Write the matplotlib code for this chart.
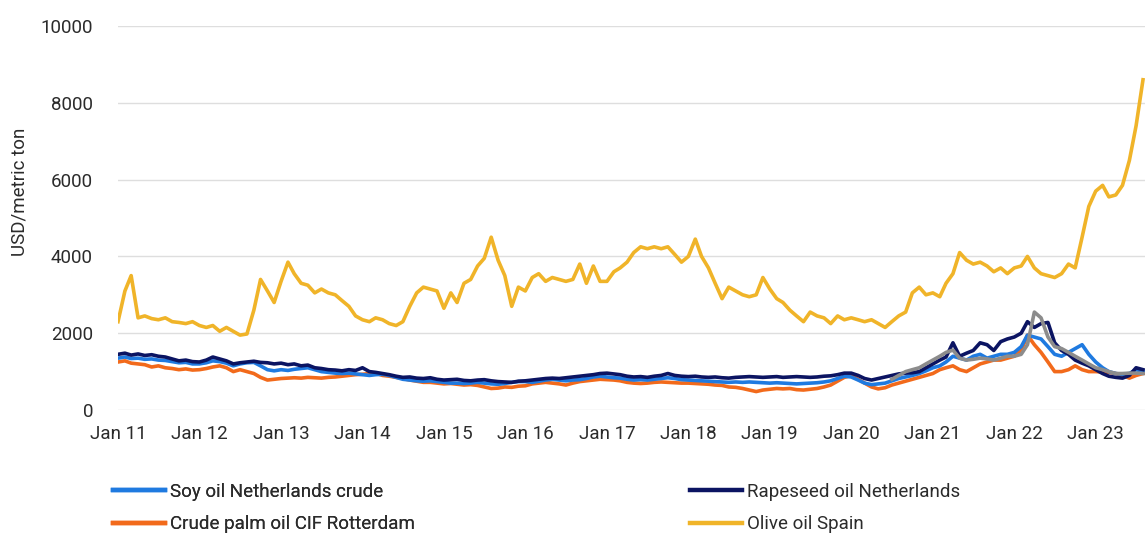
import numpy as np
import pandas as pd
import matplotlib
matplotlib.use("Agg")
from matplotlib import pyplot as plt
from matplotlib.lines import Line2D

plt.rcParams['font.family'] = ['Roboto', 'DejaVu Sans']

# monthly values, Jan 2011 - Aug 2023 (USD/metric ton)
dates = pd.date_range('2011-01-01', '2023-08-01', freq='MS')

olive = [
    2300, 3100, 3500, 2400, 2450, 2380, 2350, 2400, 2300, 2280, 2250, 2300,   # 2011
    2200, 2150, 2200, 2050, 2150, 2050, 1950, 1980, 2600, 3400, 3100, 2800,   # 2012
    3350, 3850, 3550, 3300, 3250, 3050, 3150, 3050, 3000, 2850, 2700, 2450,   # 2013
    2350, 2300, 2400, 2350, 2250, 2200, 2300, 2700, 3050, 3200, 3150, 3100,   # 2014
    2650, 3050, 2800, 3300, 3400, 3750, 3950, 4500, 3900, 3500, 2700, 3200,   # 2015
    3100, 3450, 3550, 3350, 3450, 3400, 3350, 3400, 3800, 3300, 3750, 3350,   # 2016
    3350, 3600, 3700, 3850, 4100, 4250, 4200, 4250, 4200, 4250, 4050, 3850,   # 2017
    4000, 4450, 4000, 3700, 3300, 2900, 3200, 3100, 3000, 2950, 3000, 3450,   # 2018
    3150, 2900, 2800, 2600, 2450, 2300, 2550, 2450, 2400, 2250, 2450, 2350,   # 2019
    2400, 2350, 2300, 2350, 2250, 2150, 2300, 2450, 2550, 3050, 3200, 3000,   # 2020
    3050, 2950, 3300, 3550, 4100, 3900, 3800, 3850, 3750, 3600, 3700, 3550,   # 2021
    3700, 3750, 4000, 3700, 3550, 3500, 3450, 3550, 3800, 3700, 4500, 5300,   # 2022
    5700, 5850, 5550, 5600, 5850, 6500, 7400, 8600,                           # 2023
]

rapeseed = [
    1450, 1480, 1430, 1460, 1420, 1440, 1400, 1380, 1330, 1280, 1300, 1260,
    1250, 1300, 1380, 1330, 1280, 1200, 1230, 1250, 1270, 1240, 1230, 1200,
    1220, 1180, 1200, 1150, 1170, 1100, 1080, 1050, 1040, 1020, 1050, 1030,
    1100, 1000, 980, 950, 920, 880, 850, 860, 830, 820, 840, 800,
    780, 790, 800, 770, 760, 780, 790, 760, 740, 730, 720, 750,
    760, 780, 800, 820, 830, 820, 840, 860, 880, 900, 920, 950,
    960, 940, 920, 880, 860, 870, 850, 880, 900, 950, 900, 880,
    870, 880, 860, 850, 860, 840, 830, 850, 860, 870, 860, 850,
    860, 870, 850, 860, 870, 860, 850, 860, 880, 890, 920, 960,
    960, 900, 820, 780, 820, 860, 900, 940, 960, 970, 1000, 1100,
    1200, 1300, 1380, 1750, 1400, 1480, 1550, 1750, 1700, 1550, 1780, 1850,
    1900, 2000, 2300, 2150, 2250, 2280, 1750, 1550, 1450, 1300, 1220, 1150,
    1050, 950, 880, 850, 830, 900, 1100, 1050,
]

soy = [
    1350, 1380, 1340, 1350, 1320, 1330, 1300, 1290, 1260, 1230, 1240, 1200,
    1200, 1230, 1280, 1260, 1220, 1150, 1200, 1230, 1240, 1150, 1050, 1020,
    1050, 1030, 1060, 1080, 1100, 1050, 1000, 980, 960, 950, 960, 940,
    920, 900, 920, 930, 900, 850, 800, 780, 760, 750, 760, 740,
    720, 700, 700, 690, 700, 720, 700, 680, 670, 690, 720, 740,
    740, 720, 750, 780, 800, 780, 760, 780, 790, 820, 860, 880,
    860, 840, 830, 800, 780, 790, 780, 800, 820, 840, 820, 790,
    780, 770, 760, 750, 740, 730, 720, 730, 720, 730, 720, 710,
    700, 710, 700, 690, 680, 690, 700, 710, 730, 760, 820, 880,
    860, 780, 700, 660, 680, 700, 760, 820, 860, 900, 950, 1020,
    1100, 1150, 1250, 1400, 1350, 1300, 1400, 1450, 1350, 1400, 1450, 1450,
    1500, 1650, 1950, 1900, 1850, 1650, 1450, 1400, 1500, 1600, 1700, 1450,
    1250, 1100, 1000, 950, 930, 950, 1050, 1000,
]

palm = [
    1250, 1280, 1220, 1200, 1180, 1120, 1150, 1100, 1080, 1050, 1070, 1040,
    1050, 1080, 1120, 1150, 1100, 1000, 1050, 1000, 950, 850, 780, 800,
    820, 830, 840, 830, 850, 840, 830, 850, 860, 880, 900, 920,
    930, 950, 960, 900, 880, 850, 820, 780, 750, 720, 720, 700,
    680, 690, 670, 650, 660, 640, 600, 560, 570, 600, 590, 620,
    630, 680, 700, 720, 700, 680, 650, 700, 740, 760, 780, 800,
    790, 780, 760, 720, 700, 690, 700, 720, 730, 720, 710, 700,
    700, 690, 680, 670, 650, 640, 600, 590, 560, 520, 480, 520,
    540, 560, 550, 560, 530, 520, 540, 560, 600, 650, 750, 850,
    900, 800, 700, 600, 550, 580, 650, 700, 750, 800, 850, 900,
    950, 1050, 1100, 1150, 1050, 1000, 1100, 1200, 1250, 1300, 1300, 1350,
    1400, 1550, 1950, 1700, 1500, 1250, 1000, 1000, 1050, 1150, 1050, 1000,
    1000, 990, 980, 950, 900, 830, 900, 950,
]

# grey series only from mid-2020 (not in the visible legend)
sun_dates = pd.date_range('2020-07-01', '2023-08-01', freq='MS')
sunflower = [
    800, 900, 1000, 1050, 1100, 1200,
    1300, 1400, 1500, 1560, 1350, 1300, 1320, 1350, 1330, 1300, 1350, 1400,
    1400, 1450, 1700, 2550, 2400, 1900, 1650, 1600, 1500, 1400, 1300, 1200,
    1100, 1050, 1000, 950, 950, 960, 960, 950,
]

years = list(range(2011, 2024))
xlabels = ['Jan %02d' % (y % 100) for y in years]

C_SOY = '#1f7ae0'
C_RAPE = '#0b1462'
C_PALM = '#f26a1b'
C_OLIVE = '#f0b429'
C_SUN = '#8c8c8c'
C_TXT = '#2b2b2b'
FS = 13.5

fig = plt.figure(figsize=(11.45, 5.36), dpi=100)
ax = fig.add_axes([118 / 1145, 1 - 410 / 536, 1 - 118 / 1145, (410 - 26) / 536])

lw = 2.6
ax.plot(dates, olive, color=C_OLIVE, lw=lw, zorder=3)
ax.plot(dates, palm, color=C_PALM, lw=lw, zorder=4)
ax.plot(dates, soy, color=C_SOY, lw=lw, zorder=5)
ax.plot(dates, rapeseed, color=C_RAPE, lw=lw, zorder=6)
ax.plot(sun_dates, sunflower, color=C_SUN, lw=lw, zorder=7)

ax.set_ylim(0, 10000)
ax.set_yticks(range(0, 10001, 2000))
ax.set_xlim(pd.Timestamp('2011-01-01'), pd.Timestamp('2023-08-10'))
ax.set_xticks([pd.Timestamp('%d-01-01' % y) for y in years])
ax.set_xticklabels(xlabels)

for s in ax.spines.values():
    s.set_visible(False)
ax.grid(axis='y', color='#dedede', lw=1, zorder=0)
ax.grid(axis='x', visible=False)
ax.tick_params(axis='both', length=0, labelsize=FS, colors=C_TXT)
ax.tick_params(axis='x', pad=11)
ax.tick_params(axis='y', pad=18)

fig.text(20 / 1145, 1 - 192 / 536, 'USD/metric ton', rotation=90,
         ha='center', va='center', fontsize=FS, color=C_TXT)

def handle(c):
    return Line2D([], [], color=c, lw=3.2)

leg_kw = dict(loc='upper left', frameon=False, fontsize=FS, handlelength=2.75,
              handletextpad=0.3, labelspacing=0.75, borderpad=0, borderaxespad=0,
              labelcolor=C_TXT)
leg1 = fig.legend([handle(C_SOY), handle(C_PALM)],
                  ['Soy oil Netherlands crude', 'Crude palm oil CIF Rotterdam'],
                  bbox_to_anchor=(113 / 1145, 1 - 483 / 536), **leg_kw)
leg2 = fig.legend([handle(C_RAPE), handle(C_OLIVE)],
                  ['Rapeseed oil Netherlands', 'Olive oil Spain'],
                  bbox_to_anchor=(690 / 1145, 1 - 483 / 536), **leg_kw)
fig.add_artist(leg1)

fig.savefig('out.png', dpi=100)
